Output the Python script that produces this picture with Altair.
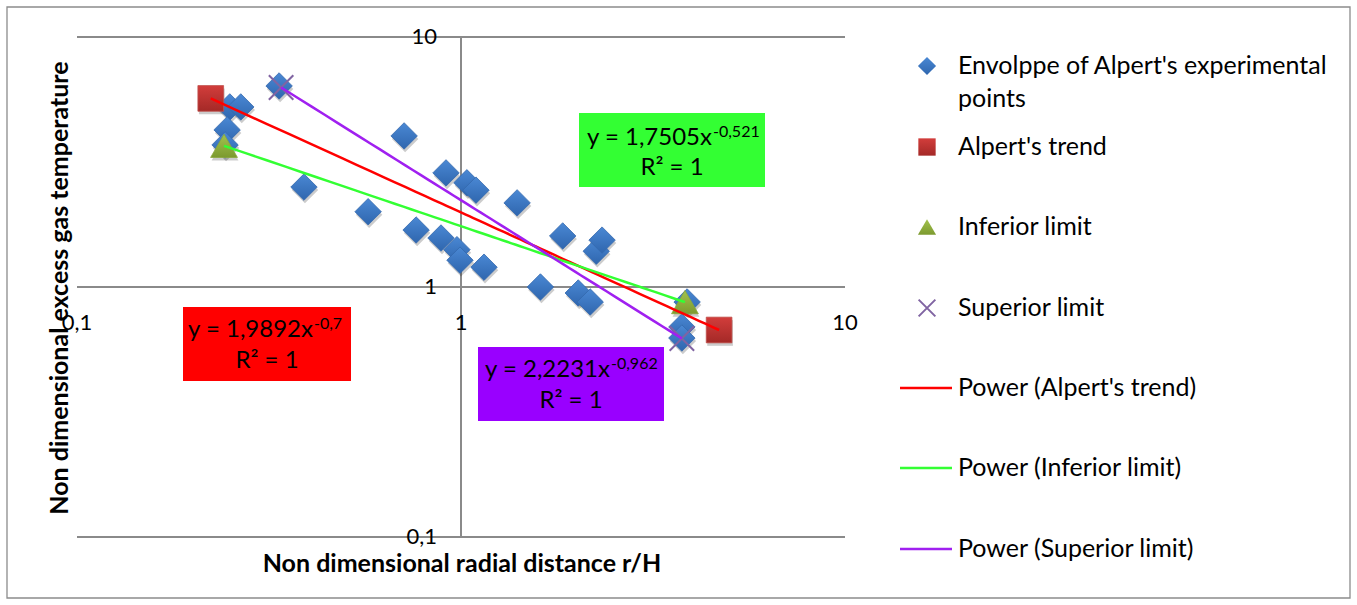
import altair as alt
import pandas as pd

# Envelope of Alpert's experimental points (r/H, non dimensional excess temperature)
env_x = [0.336, 0.250, 0.267, 0.246, 0.243, 0.390, 0.573, 0.711, 0.764, 0.887,
         0.914, 0.976, 0.994, 1.036, 1.094, 1.148, 1.40, 1.61, 1.84, 2.02,
         2.17, 2.25, 2.33, 3.88, 3.76, 3.76]
env_y = [6.37, 5.25, 5.25, 4.25, 3.70, 2.51, 2.00, 4.02, 1.69, 1.57,
         2.86, 1.41, 1.28, 2.61, 2.44, 1.20, 2.17, 1.00, 1.60, 0.946,
         0.871, 1.39, 1.54, 0.871, 0.692, 0.625]

# Alpert's trend and the two limits
trend_x = [0.223, 4.70]
trend_y = [5.68, 0.673]
inf_x = [0.2415, 3.83]
inf_y = [3.67, 0.870]
sup_x = [0.340, 3.76]
sup_y = [6.28, 0.622]

# Trendline labels
eq_main = ["y = 1,9892x", "y = 1,7505x", "y = 2,2231x"]
eq_exp = ["-0,7", "-0,521", "-0,962"]
eq_r2 = ["R² = 1", "R² = 1", "R² = 1"]

tick_values = [0.1, 1, 10]
tick_text = ["0,1", "1", "10"]

legend_labels = ["Envolppe of Alpert's experimental", "points", "Alpert's trend",
                 "Inferior limit", "Superior limit", "Power (Alpert's trend)",
                 "Power (Inferior limit)", "Power (Superior limit)"]

# ---- layout ----
W, H = 1357, 605
L, T, R, B = 77, 37, 845, 537
PW, PH = R - L, B - T
FONT = "Lato"
GRID = "#8a8a8a"


def ax(px):
    return px - L


def ay(py):
    return py - T


xs = alt.Scale(type="log", domain=[0.1, 10])
ys = alt.Scale(type="log", domain=[0.1, 10])
X = lambda: alt.X("x:Q", scale=xs, axis=None)
Y = lambda: alt.Y("y:Q", scale=ys, axis=None)

one = pd.DataFrame({"k": [0]})
ticks = pd.DataFrame({"v": tick_values, "t": tick_text})

layers = []

# chart border
layers.append(alt.Chart(one).mark_rect(fill=None, stroke="#8c8c8c", strokeWidth=1.3).encode(
    x=alt.value(ax(7)), x2=alt.value(ax(1350)), y=alt.value(ay(7)), y2=alt.value(ay(598))))

# horizontal gridlines (10, 1 and 0,1) and the vertical axis at r/H = 1
layers.append(alt.Chart(ticks).mark_rule(color=GRID, strokeWidth=2).encode(
    y=alt.Y("v:Q", scale=ys, axis=None), x=alt.value(0), x2=alt.value(PW)))
layers.append(alt.Chart(one).mark_rule(color=GRID, strokeWidth=2).encode(
    x=alt.X(datum=1, scale=xs, axis=None), y=alt.value(0), y2=alt.value(PH)))

# tick labels
layers.append(alt.Chart(ticks).mark_text(font=FONT, fontSize=22, align="right",
                                         baseline="middle", color="#000").encode(
    y=alt.Y("v:Q", scale=ys, axis=None), x=alt.value(ax(437)), text="t:N"))
layers.append(alt.Chart(ticks).mark_text(font=FONT, fontSize=22, align="center",
                                         baseline="middle", color="#000", dy=36).encode(
    x=alt.X("v:Q", scale=xs, axis=None), y=alt.Y(datum=1, scale=ys, axis=None), text="t:N"))

# axis titles
layers.append(alt.Chart(one).mark_text(text="Non dimensional radial distance r/H", font=FONT,
                                       fontSize=25, fontWeight="bold", align="center",
                                       baseline="middle", color="#000").encode(
    x=alt.value(ax(462)), y=alt.value(ay(564))))
layers.append(alt.Chart(one).mark_text(text="Non dimensional excess gas temperature", font=FONT,
                                       fontSize=25, fontWeight="bold", align="center",
                                       baseline="middle", angle=270, color="#000").encode(
    x=alt.value(ax(60)), y=alt.value(ay(288))))


def grad(top, bottom):
    return alt.Gradient(gradient="linear", x1=0, x2=0, y1=0, y2=1,
                        stops=[alt.GradientStop(color=top, offset=0),
                               alt.GradientStop(color=bottom, offset=1)])


env = pd.DataFrame({"x": env_x, "y": env_y})
trend = pd.DataFrame({"x": trend_x, "y": trend_y})
inf = pd.DataFrame({"x": inf_x, "y": inf_y})
sup = pd.DataFrame({"x": sup_x, "y": sup_y})

XPATH = "M-1,-1L1,1M1,-1L-1,1"

# marker shadows
for d, shape, size in [(env, "diamond", 700), (trend, "square", 660), (inf, "triangle-up", 720)]:
    layers.append(alt.Chart(d).mark_point(shape=shape, size=size, filled=True, fill="#000",
                                          opacity=0.2, xOffset=1, yOffset=3, strokeWidth=0).encode(
        x=X(), y=Y()))

# markers
layers.append(alt.Chart(env).mark_point(shape="diamond", size=700, filled=True,
                                        fill=grad("#4a88d4", "#2f66ae"), opacity=1,
                                        stroke="#3468ad", strokeWidth=0.8).encode(x=X(), y=Y()))
layers.append(alt.Chart(trend).mark_point(shape="square", size=660, filled=True,
                                          fill=grad("#d23d3b", "#a42927"), opacity=1,
                                          stroke="#c0504d", strokeWidth=0.8).encode(x=X(), y=Y()))
layers.append(alt.Chart(inf).mark_point(shape="triangle-up", size=720, filled=True,
                                        fill=grad("#a3c24d", "#7c9a2f"), opacity=1,
                                        stroke="#8aa83b", strokeWidth=0.8).encode(x=X(), y=Y()))
layers.append(alt.Chart(sup).mark_point(shape=XPATH, size=600, filled=False,
                                        stroke="#8064a2", strokeWidth=2, opacity=1).encode(x=X(), y=Y()))

# power trendlines
for d, col in [(trend, "#ff0000"), (inf, "#33ff33"), (sup, "#a020f0")]:
    layers.append(alt.Chart(d).transform_regression("x", "y", method="pow")
                  .mark_line(color=col, strokeWidth=2.5).encode(x=X(), y=Y()))

# trendline equation boxes: (fill, x0, x1, y0, y1, joint x, main baseline, line 2 baseline)
boxes = [
    ("#ff0000", 183, 351, 307, 381, 313, 337, 368),
    ("#33ff33", 579, 765, 113, 187, 712, 145, 175),
    ("#9900ff", 478, 664, 347, 421, 610, 377, 408),
]
for i, (fill, x0, x1, y0, y1, jx, b1, b2) in enumerate(boxes):
    layers.append(alt.Chart(one).mark_rect(fill=fill).encode(
        x=alt.value(ax(x0)), x2=alt.value(ax(x1)), y=alt.value(ay(y0)), y2=alt.value(ay(y1))))
    layers.append(alt.Chart(one).mark_text(text=eq_main[i], font=FONT, fontSize=24, align="right",
                                           baseline="alphabetic", color="#000").encode(
        x=alt.value(ax(jx)), y=alt.value(ay(b1))))
    layers.append(alt.Chart(one).mark_text(text=eq_exp[i], font=FONT, fontSize=16, align="left",
                                           baseline="alphabetic", color="#000").encode(
        x=alt.value(ax(jx + 1)), y=alt.value(ay(b1 - 8))))
    layers.append(alt.Chart(one).mark_text(text=eq_r2[i], font=FONT, fontSize=24, align="center",
                                           baseline="alphabetic", color="#000").encode(
        x=alt.value(ax((x0 + x1) / 2)), y=alt.value(ay(b2))))

# legend
LX_SYM, LX_TXT = 927, 958
leg_text_y = [66, 99, 147, 227, 308, 388, 468, 549]
for lab, yy in zip(legend_labels, leg_text_y):
    layers.append(alt.Chart(one).mark_text(text=lab, font=FONT, fontSize=25, align="left",
                                           baseline="middle", color="#000").encode(
        x=alt.value(ax(LX_TXT)), y=alt.value(ay(yy))))

for shape, fill, yy in [("diamond", grad("#4a88d4", "#2f66ae"), 66),
                        ("square", grad("#d23d3b", "#a42927"), 147),
                        ("triangle-up", grad("#a3c24d", "#7c9a2f"), 227)]:
    layers.append(alt.Chart(one).mark_point(shape=shape, size=330 if shape != "square" else 300,
                                            filled=True, fill=fill, opacity=1, strokeWidth=0).encode(
        x=alt.value(ax(LX_SYM)), y=alt.value(ay(yy))))
layers.append(alt.Chart(one).mark_point(shape=XPATH, size=280, filled=False, stroke="#8064a2",
                                        strokeWidth=2, opacity=1).encode(
    x=alt.value(ax(LX_SYM)), y=alt.value(ay(308))))
for col, yy in [("#ff0000", 388), ("#33ff33", 468), ("#a020f0", 549)]:
    layers.append(alt.Chart(one).mark_rule(color=col, strokeWidth=2.5).encode(
        x=alt.value(ax(900)), x2=alt.value(ax(952)), y=alt.value(ay(yy))))

chart = alt.layer(*layers).properties(
    width=PW, height=PH,
    autosize=alt.AutoSizeParams(type="none"),
    padding={"left": L, "top": T, "right": W - R, "bottom": H - B},
    background="white",
).configure_view(stroke=None)

chart.save("out.html", embed_options={"renderer": "svg", "actions": False})
